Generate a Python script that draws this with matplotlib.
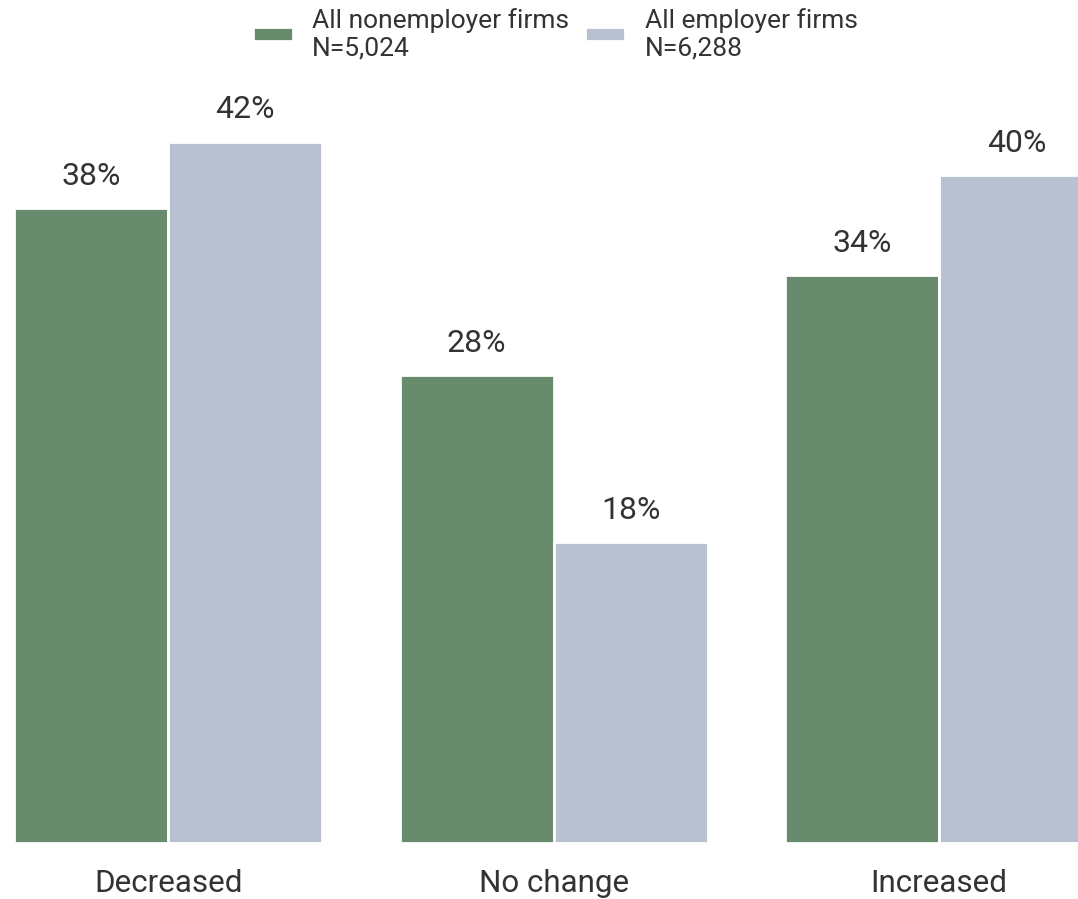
import numpy as np
import matplotlib as mpl
import matplotlib.pyplot as plt

mpl.rcParams['font.family'] = ['Roboto', 'DejaVu Sans']
mpl.rcParams['text.color'] = '#333333'

categories = ['Decreased', 'No change', 'Increased']
nonemployer = [38, 28, 34]
employer = [42, 18, 40]
series_labels = ['All nonemployer firms\nN=5,024', 'All employer firms\nN=6,288']
colors = ['#678b6c', '#b8c1d0']

fig = plt.figure(figsize=(10.78, 8.99), dpi=100)
ax = fig.add_axes([14 / 1078, 56 / 899, 1 - 14 / 1078, 835 / 899])

x = np.arange(len(categories))
w = 0.4
for i, (vals, c, lab) in enumerate(zip([nonemployer, employer], colors, series_labels)):
    b = ax.bar(x + (i - 0.5) * w, vals, width=w, color=c, edgecolor='white',
               linewidth=2, label=lab)
    # percentage above each bar
    for rect, v in zip(b, vals):
        ax.annotate(f'{v}%', (rect.get_x() + rect.get_width() / 2, v),
                    xytext=(0, 12.5), textcoords='offset points',
                    ha='center', va='bottom', fontsize=23, color='#333333')

ax.set_xlim(-0.4, 2.36)
ax.set_ylim(0, 50)
ax.set_xticks(x)
ax.set_xticklabels(categories, fontsize=22.6, color='#333333')
ax.tick_params(axis='x', length=0, pad=18.5)
ax.set_yticks([])
for s in ax.spines.values():
    s.set_visible(False)

fig.legend(loc='upper center', bbox_to_anchor=(0.515, 1.018), ncol=2, frameon=False,
           fontsize=19, handlelength=1.5, handleheight=0.4, columnspacing=0.6,
           handletextpad=0.75)

plt.savefig('out.png', dpi=100)
